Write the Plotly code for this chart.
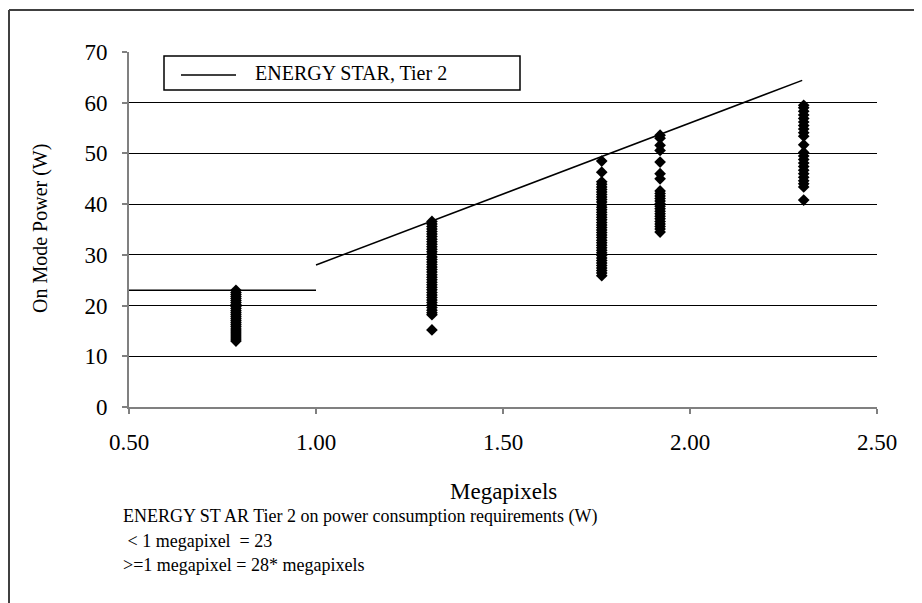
import plotly.graph_objects as go

# ---- data ----
mp_0786 = 0.786
pw_0786 = [23.0, 22.6, 22.2, 21.8, 21.4, 21.0, 20.6, 20.2, 19.8, 19.4, 19.0, 18.6,
           18.2, 17.8, 17.4, 17.0, 16.6, 16.2, 15.8, 15.4, 15.0, 14.6, 14.2, 13.8,
           13.4, 13.0]

mp_1310 = 1.31
pw_1310 = [36.6, 36.1, 35.6, 35.1, 34.6, 34.1, 33.6, 33.1, 32.6, 32.1, 31.6, 31.1,
           30.6, 30.1, 29.6, 29.1, 28.6, 28.1, 27.6, 27.1, 26.6, 26.1, 25.6, 25.1,
           24.6, 24.1, 23.6, 23.1, 22.6, 22.1, 21.6, 21.1, 20.6, 20.1, 19.6, 19.1,
           18.6, 18.2, 15.2]

mp_1764 = 1.764
pw_1764 = [48.5, 46.3, 44.4, 43.9, 43.4, 42.9, 42.4, 41.9, 41.4, 40.9, 40.4, 39.9,
           39.4, 38.9, 38.4, 37.9, 37.4, 36.9, 36.4, 35.9, 35.4, 34.9, 34.4, 33.9,
           33.4, 32.9, 32.4, 31.9, 31.4, 30.9, 30.4, 29.9, 29.4, 28.9, 28.4, 27.9,
           27.4, 26.9, 26.4, 25.9]

mp_1920 = 1.92
pw_1920 = [53.6, 53.0, 51.6, 50.6, 48.3, 46.0, 45.0, 42.6, 42.1, 41.6, 41.1, 40.6,
           40.1, 39.6, 39.1, 38.6, 38.1, 37.6, 37.1, 36.6, 36.1, 35.6, 35.1, 34.5]

mp_2304 = 2.304
pw_2304 = [59.5, 59.0, 58.3, 57.6, 56.9, 56.2, 55.5, 54.8, 54.1, 53.4, 51.7, 50.2,
           49.5, 48.8, 48.1, 47.4, 46.7, 46.0, 45.3, 44.6, 44.0, 43.4, 40.8]

tier2_x = [0.5, 1.0, None, 1.0, 2.3]
tier2_y = [23, 23, None, 28, 64.4]

x_ticks = [0.5, 1.0, 1.5, 2.0, 2.5]
y_ticks = [0, 10, 20, 30, 40, 50, 60, 70]

FONT = "Liberation Serif, Times New Roman, serif"

# page offset (body margin) and plot area in screen pixels
OFF = 8
SL, SR, ST, SB = 129, 877, 52, 407
W, H = 922, 603
L, R, T, B = SL - OFF, SR - OFF, ST - OFF, SB - OFF


def px(xs):
    return (xs - SL) / (SR - SL)


def py(ys):
    return (SB - ys) / (SB - ST)


fig = go.Figure()

all_x = ([mp_0786] * len(pw_0786) + [mp_1310] * len(pw_1310) + [mp_1764] * len(pw_1764)
         + [mp_1920] * len(pw_1920) + [mp_2304] * len(pw_2304))
all_y = pw_0786 + pw_1310 + pw_1764 + pw_1920 + pw_2304

fig.add_trace(go.Scatter(
    x=all_x, y=all_y, mode="markers", showlegend=False,
    marker=dict(symbol="diamond", size=9, color="black", line=dict(width=0)),
))

fig.add_trace(go.Scatter(
    x=tier2_x, y=tier2_y, mode="lines", name="ENERGY STAR, Tier 2",
    line=dict(color="black", width=1.5), connectgaps=False, showlegend=False,
))

fig.update_layout(
    width=W, height=H,
    margin=dict(l=L, r=W - R, t=T, b=H - B, pad=0),
    paper_bgcolor="white", plot_bgcolor="white",
    font=dict(family=FONT, color="black"),
    showlegend=False,
    xaxis=dict(
        range=[0.5, 2.5], tickvals=x_ticks, tickformat=".2f",
        showgrid=False, zeroline=False,
        showline=True, linecolor="#808080", linewidth=2,
        ticks="outside", ticklen=5, tickcolor="#808080", tickwidth=1.5,
        tickfont=dict(family=FONT, size=23, color="black"),
        ticklabelstandoff=8,
    ),
    yaxis=dict(
        range=[0, 70], tickvals=y_ticks,
        showgrid=True, gridcolor="black", gridwidth=1,
        zeroline=False,
        showline=True, linecolor="#808080", linewidth=2,
        ticks="outside", ticklen=5, tickcolor="#808080", tickwidth=1.5,
        tickfont=dict(family=FONT, size=23, color="black"),
        ticklabelstandoff=10,
    ),
)

ann = [
    dict(text="Megapixels", x=0.5, y=py(492), xanchor="center", yanchor="middle",
         font=dict(size=23)),
    dict(text="On Mode Power (W)", x=px(40), y=py(229), xanchor="center", yanchor="middle",
         textangle=-90, font=dict(size=20)),
    dict(text="ENERGY ST AR Tier 2 on power consumption requirements (W)", x=px(121),
         y=py(516), xanchor="left", yanchor="middle", font=dict(size=18)),
    dict(text=" < 1 megapixel  = 23", x=px(121), y=py(541), xanchor="left",
         yanchor="middle", font=dict(size=18)),
    dict(text=">=1 megapixel = 28* megapixels", x=px(121), y=py(565), xanchor="left",
         yanchor="middle", font=dict(size=18)),
    # legend label
    dict(text="ENERGY STAR, Tier 2", x=px(253), y=py(73), xanchor="left", yanchor="middle",
         font=dict(size=20)),
]
for a in ann:
    a.update(xref="paper", yref="paper", showarrow=False)
    a["font"] = dict(family=FONT, color="black", **a["font"])
fig.update_layout(annotations=ann)

# legend box and line sample
fig.add_shape(type="rect", xref="paper", yref="paper", x0=px(164), x1=px(520), y0=py(56), y1=py(90),
              line=dict(color="black", width=1.5), fillcolor="white", layer="above")
fig.add_shape(type="line", xref="paper", yref="paper", x0=px(181), x1=px(236), y0=py(75), y1=py(75),
              line=dict(color="black", width=1.5), layer="above")

# outer chart frame (cut off at the right and bottom in the reference)
fig.add_shape(type="line", xref="paper", yref="paper", x0=px(9), x1=px(930), y0=py(10), y1=py(10),
              line=dict(color="#404040", width=2))
fig.add_shape(type="line", xref="paper", yref="paper", x0=px(9), x1=px(9), y0=py(10), y1=py(611),
              line=dict(color="#404040", width=2))

fig.write_html("out.html")
